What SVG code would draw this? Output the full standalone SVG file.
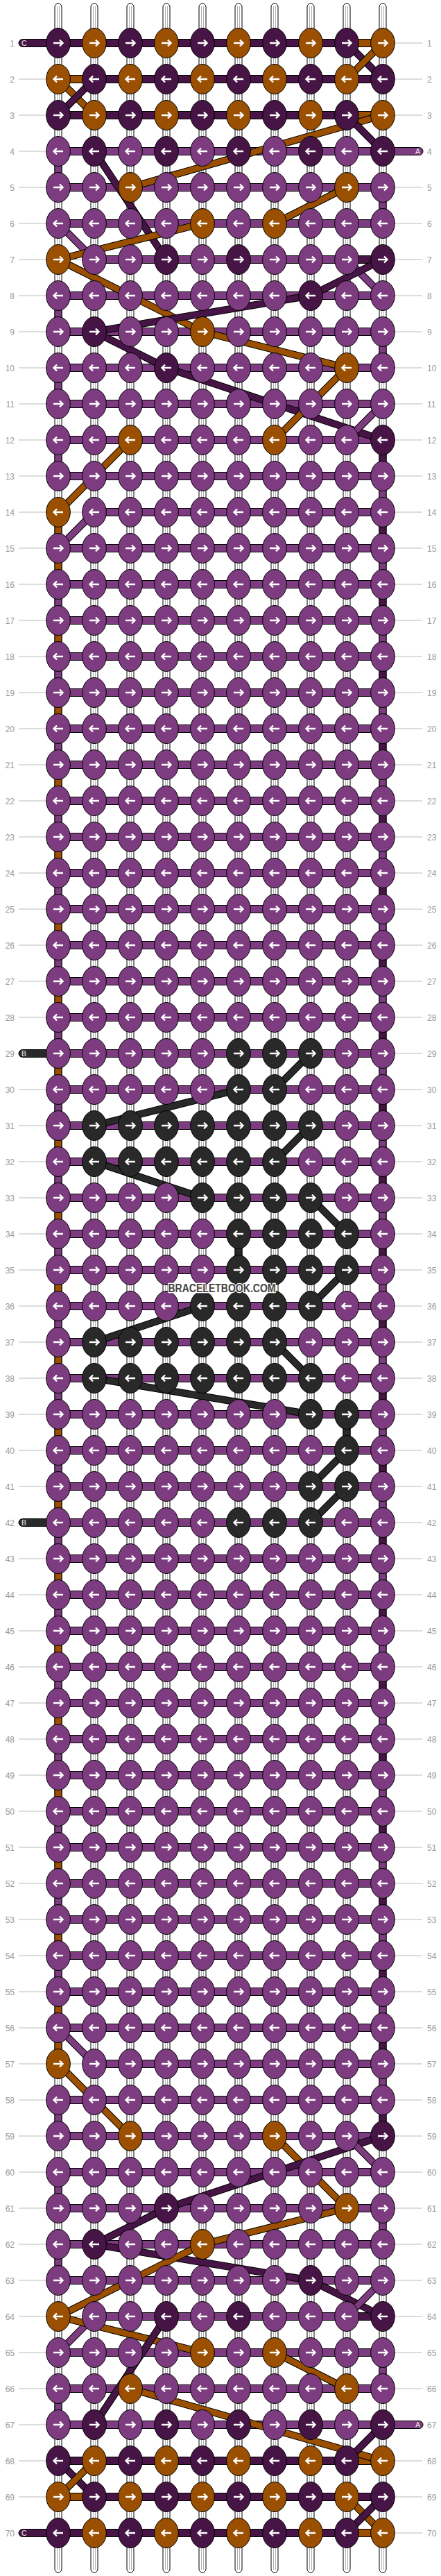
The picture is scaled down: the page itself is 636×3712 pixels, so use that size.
<svg xmlns="http://www.w3.org/2000/svg" xmlns:xlink="http://www.w3.org/1999/xlink" width="636" height="3712" viewBox="0 0 636 3712">
<style>
.p{fill:#7d3c80}.d{fill:#471545}.o{fill:#9a5000}.k{fill:#292929}
.kn{stroke:#000;stroke-width:1}
.ar{fill:none;stroke:#fff;stroke-width:2.4}
.lb{font-family:"Liberation Sans",Arial,sans-serif;font-size:12px;fill:#999}
.ln{stroke:#bbb;stroke-width:1;fill:none}
.hb,.vs,.eb{stroke:#000;stroke-width:1}
.str{fill:#fff;stroke:#000;stroke-width:1}
.sg{stroke:#b0b0b0;stroke-width:1;fill:none}
.ol{fill:none;stroke:#000;stroke-width:10.5}
.tp,.td,.to,.tk{fill:none;stroke-width:8.5}
.tp{stroke:#7d3c80}.td{stroke:#471545}.to{stroke:#9a5000}.tk{stroke:#292929}
.el{font-family:"Liberation Sans",Arial,sans-serif;font-size:10.5px;fill:#eee}
.wm{font-family:"Liberation Sans",Arial,sans-serif;font-size:16px;font-weight:bold;fill:#444;stroke:#fff;stroke-width:2.5;paint-order:stroke}
</style>
<defs>
<path id="ar" class="ar" d="M-7 0H6M2-4.5L6.5 0L2 4.5"/>
<path id="al" class="ar" d="M7 0H-6M-2-4.5L-6.5 0L-2 4.5"/>
<g id="pr"><ellipse class="kn p" rx="17.3" ry="21.5"/><use href="#ar"/></g>
<g id="pl"><ellipse class="kn p" rx="17.3" ry="21.5"/><use href="#al"/></g>
<g id="dr"><ellipse class="kn d" rx="17.3" ry="21.5"/><use href="#ar"/></g>
<g id="dl"><ellipse class="kn d" rx="17.3" ry="21.5"/><use href="#al"/></g>
<g id="or"><ellipse class="kn o" rx="17.3" ry="21.5"/><use href="#ar"/></g>
<g id="ol"><ellipse class="kn o" rx="17.3" ry="21.5"/><use href="#al"/></g>
<g id="kr"><ellipse class="kn k" rx="17.3" ry="21.5"/><use href="#ar"/></g>
<g id="kl"><ellipse class="kn k" rx="17.3" ry="21.5"/><use href="#al"/></g>
<rect id="vP" class="vs p" width="10" height="22"/>
<rect id="vO" class="vs o" width="10" height="22"/>
<rect id="vD" class="vs d" width="10" height="22"/>
<rect id="vK" class="vs k" width="10" height="22"/>
</defs>
<rect width="636" height="3712" fill="#fff"/>
<g id="label-lines"><path class="ln" d="M27 62H609M27 114H609M27 166H609M27 218H609M27 270H609M27 322H609M27 374H609M27 426H609M27 478H609M27 530H609M27 582H609M27 634H609M27 686H609M27 738H609M27 790H609M27 842H609M27 894H609M27 946H609M27 998H609M27 1050H609M27 1102H609M27 1154H609M27 1206H609M27 1258H609M27 1310H609M27 1362H609M27 1414H609M27 1466H609M27 1518H609M27 1570H609M27 1622H609M27 1674H609M27 1726H609M27 1778H609M27 1830H609M27 1882H609M27 1934H609M27 1986H609M27 2038H609M27 2090H609M27 2142H609M27 2194H609M27 2246H609M27 2298H609M27 2350H609M27 2402H609M27 2454H609M27 2506H609M27 2558H609M27 2610H609M27 2662H609M27 2714H609M27 2766H609M27 2818H609M27 2870H609M27 2922H609M27 2974H609M27 3026H609M27 3078H609M27 3130H609M27 3182H609M27 3234H609M27 3286H609M27 3338H609M27 3390H609M27 3442H609M27 3494H609M27 3546H609M27 3598H609M27 3650H609"/></g>
<g id="row-labels-left" class="lb" text-anchor="end">
<text x="21" y="66.5">1</text><text x="21" y="118.5">2</text><text x="21" y="170.5">3</text><text x="21" y="222.5">4</text><text x="21" y="274.5">5</text><text x="21" y="326.5">6</text><text x="21" y="378.5">7</text><text x="21" y="430.5">8</text><text x="21" y="482.5">9</text><text x="21" y="534.5">10</text><text x="21" y="586.5">11</text><text x="21" y="638.5">12</text><text x="21" y="690.5">13</text><text x="21" y="742.5">14</text><text x="21" y="794.5">15</text><text x="21" y="846.5">16</text><text x="21" y="898.5">17</text><text x="21" y="950.5">18</text><text x="21" y="1002.5">19</text><text x="21" y="1054.5">20</text><text x="21" y="1106.5">21</text><text x="21" y="1158.5">22</text><text x="21" y="1210.5">23</text><text x="21" y="1262.5">24</text><text x="21" y="1314.5">25</text><text x="21" y="1366.5">26</text><text x="21" y="1418.5">27</text><text x="21" y="1470.5">28</text><text x="21" y="1522.5">29</text><text x="21" y="1574.5">30</text><text x="21" y="1626.5">31</text><text x="21" y="1678.5">32</text><text x="21" y="1730.5">33</text><text x="21" y="1782.5">34</text><text x="21" y="1834.5">35</text><text x="21" y="1886.5">36</text><text x="21" y="1938.5">37</text><text x="21" y="1990.5">38</text><text x="21" y="2042.5">39</text><text x="21" y="2094.5">40</text><text x="21" y="2146.5">41</text><text x="21" y="2198.5">42</text><text x="21" y="2250.5">43</text><text x="21" y="2302.5">44</text><text x="21" y="2354.5">45</text><text x="21" y="2406.5">46</text><text x="21" y="2458.5">47</text><text x="21" y="2510.5">48</text><text x="21" y="2562.5">49</text><text x="21" y="2614.5">50</text><text x="21" y="2666.5">51</text><text x="21" y="2718.5">52</text><text x="21" y="2770.5">53</text><text x="21" y="2822.5">54</text><text x="21" y="2874.5">55</text><text x="21" y="2926.5">56</text><text x="21" y="2978.5">57</text><text x="21" y="3030.5">58</text><text x="21" y="3082.5">59</text><text x="21" y="3134.5">60</text><text x="21" y="3186.5">61</text><text x="21" y="3238.5">62</text><text x="21" y="3290.5">63</text><text x="21" y="3342.5">64</text><text x="21" y="3394.5">65</text><text x="21" y="3446.5">66</text><text x="21" y="3498.5">67</text><text x="21" y="3550.5">68</text><text x="21" y="3602.5">69</text><text x="21" y="3654.5">70</text>
</g>
<g id="row-labels-right" class="lb">
<text x="616" y="66.5">1</text><text x="616" y="118.5">2</text><text x="616" y="170.5">3</text><text x="616" y="222.5">4</text><text x="616" y="274.5">5</text><text x="616" y="326.5">6</text><text x="616" y="378.5">7</text><text x="616" y="430.5">8</text><text x="616" y="482.5">9</text><text x="616" y="534.5">10</text><text x="616" y="586.5">11</text><text x="616" y="638.5">12</text><text x="616" y="690.5">13</text><text x="616" y="742.5">14</text><text x="616" y="794.5">15</text><text x="616" y="846.5">16</text><text x="616" y="898.5">17</text><text x="616" y="950.5">18</text><text x="616" y="1002.5">19</text><text x="616" y="1054.5">20</text><text x="616" y="1106.5">21</text><text x="616" y="1158.5">22</text><text x="616" y="1210.5">23</text><text x="616" y="1262.5">24</text><text x="616" y="1314.5">25</text><text x="616" y="1366.5">26</text><text x="616" y="1418.5">27</text><text x="616" y="1470.5">28</text><text x="616" y="1522.5">29</text><text x="616" y="1574.5">30</text><text x="616" y="1626.5">31</text><text x="616" y="1678.5">32</text><text x="616" y="1730.5">33</text><text x="616" y="1782.5">34</text><text x="616" y="1834.5">35</text><text x="616" y="1886.5">36</text><text x="616" y="1938.5">37</text><text x="616" y="1990.5">38</text><text x="616" y="2042.5">39</text><text x="616" y="2094.5">40</text><text x="616" y="2146.5">41</text><text x="616" y="2198.5">42</text><text x="616" y="2250.5">43</text><text x="616" y="2302.5">44</text><text x="616" y="2354.5">45</text><text x="616" y="2406.5">46</text><text x="616" y="2458.5">47</text><text x="616" y="2510.5">48</text><text x="616" y="2562.5">49</text><text x="616" y="2614.5">50</text><text x="616" y="2666.5">51</text><text x="616" y="2718.5">52</text><text x="616" y="2770.5">53</text><text x="616" y="2822.5">54</text><text x="616" y="2874.5">55</text><text x="616" y="2926.5">56</text><text x="616" y="2978.5">57</text><text x="616" y="3030.5">58</text><text x="616" y="3082.5">59</text><text x="616" y="3134.5">60</text><text x="616" y="3186.5">61</text><text x="616" y="3238.5">62</text><text x="616" y="3290.5">63</text><text x="616" y="3342.5">64</text><text x="616" y="3394.5">65</text><text x="616" y="3446.5">66</text><text x="616" y="3498.5">67</text><text x="616" y="3550.5">68</text><text x="616" y="3602.5">69</text><text x="616" y="3654.5">70</text>
</g>
<g id="strings">
<rect class="str" x="79" y="5" width="10" height="3702" rx="5"/><rect class="str" x="131" y="5" width="10" height="3702" rx="5"/><rect class="str" x="183" y="5" width="10" height="3702" rx="5"/><rect class="str" x="235" y="5" width="10" height="3702" rx="5"/><rect class="str" x="287" y="5" width="10" height="3702" rx="5"/><rect class="str" x="339" y="5" width="10" height="3702" rx="5"/><rect class="str" x="391" y="5" width="10" height="3702" rx="5"/><rect class="str" x="443" y="5" width="10" height="3702" rx="5"/><rect class="str" x="495" y="5" width="10" height="3702" rx="5"/><rect class="str" x="547" y="5" width="10" height="3702" rx="5"/>
<path class="sg" d="M82.5 9V3703M85.5 9V3703M134.5 9V3703M137.5 9V3703M186.5 9V3703M189.5 9V3703M238.5 9V3703M241.5 9V3703M290.5 9V3703M293.5 9V3703M342.5 9V3703M345.5 9V3703M394.5 9V3703M397.5 9V3703M446.5 9V3703M449.5 9V3703M498.5 9V3703M501.5 9V3703M550.5 9V3703M553.5 9V3703"/>
</g>
<g id="vertical-segments">
<use href="#vP" x="79" y="233"/><use href="#vP" x="79" y="441"/><use href="#vP" x="79" y="545"/><use href="#vP" x="79" y="649"/><use href="#vO" x="79" y="753"/><use href="#vO" x="79" y="805"/>
<use href="#vP" x="79" y="857"/><use href="#vO" x="79" y="909"/><use href="#vP" x="79" y="961"/><use href="#vO" x="79" y="1013"/><use href="#vP" x="79" y="1065"/><use href="#vO" x="79" y="1117"/><use href="#vP" x="79" y="1169"/><use href="#vO" x="79" y="1221"/><use href="#vP" x="79" y="1273"/><use href="#vO" x="79" y="1325"/><use href="#vP" x="79" y="1377"/><use href="#vO" x="79" y="1429"/><use href="#vP" x="79" y="1481"/><use href="#vO" x="79" y="1533"/><use href="#vP" x="79" y="1585"/><use href="#vO" x="79" y="1637"/><use href="#vP" x="79" y="1689"/><use href="#vO" x="79" y="1741"/><use href="#vP" x="79" y="1793"/><use href="#vO" x="79" y="1845"/><use href="#vP" x="79" y="1897"/><use href="#vO" x="79" y="1949"/><use href="#vP" x="79" y="2001"/><use href="#vO" x="79" y="2053"/><use href="#vP" x="79" y="2105"/><use href="#vO" x="79" y="2157"/><use href="#vP" x="79" y="2209"/><use href="#vO" x="79" y="2261"/><use href="#vP" x="79" y="2313"/><use href="#vO" x="79" y="2365"/><use href="#vP" x="79" y="2417"/><use href="#vO" x="79" y="2469"/><use href="#vP" x="79" y="2521"/><use href="#vO" x="79" y="2573"/><use href="#vP" x="79" y="2625"/><use href="#vO" x="79" y="2677"/><use href="#vP" x="79" y="2729"/><use href="#vO" x="79" y="2781"/><use href="#vP" x="79" y="2833"/><use href="#vO" x="79" y="2885"/><use href="#vO" x="79" y="2937"/>
<use href="#vP" x="79" y="3041"/><use href="#vP" x="79" y="3145"/><use href="#vP" x="79" y="3249"/><use href="#vP" x="79" y="3457"/>
<use href="#vP" x="547" y="285"/><use href="#vP" x="547" y="493"/><use href="#vD" x="547" y="649"/>
<use href="#vP" x="547" y="701"/><use href="#vD" x="547" y="753"/><use href="#vP" x="547" y="805"/><use href="#vD" x="547" y="857"/><use href="#vP" x="547" y="909"/><use href="#vD" x="547" y="961"/><use href="#vP" x="547" y="1013"/><use href="#vD" x="547" y="1065"/><use href="#vP" x="547" y="1117"/><use href="#vD" x="547" y="1169"/><use href="#vP" x="547" y="1221"/><use href="#vD" x="547" y="1273"/><use href="#vP" x="547" y="1325"/><use href="#vD" x="547" y="1377"/><use href="#vP" x="547" y="1429"/><use href="#vD" x="547" y="1481"/><use href="#vP" x="547" y="1533"/><use href="#vD" x="547" y="1585"/><use href="#vP" x="547" y="1637"/><use href="#vD" x="547" y="1689"/><use href="#vP" x="547" y="1741"/><use href="#vD" x="547" y="1793"/><use href="#vP" x="547" y="1845"/><use href="#vD" x="547" y="1897"/><use href="#vP" x="547" y="1949"/><use href="#vD" x="547" y="2001"/><use href="#vP" x="547" y="2053"/><use href="#vD" x="547" y="2105"/><use href="#vP" x="547" y="2157"/><use href="#vD" x="547" y="2209"/><use href="#vP" x="547" y="2261"/><use href="#vD" x="547" y="2313"/><use href="#vP" x="547" y="2365"/><use href="#vD" x="547" y="2417"/><use href="#vP" x="547" y="2469"/><use href="#vD" x="547" y="2521"/><use href="#vP" x="547" y="2573"/><use href="#vD" x="547" y="2625"/><use href="#vP" x="547" y="2677"/><use href="#vD" x="547" y="2729"/><use href="#vP" x="547" y="2781"/><use href="#vD" x="547" y="2833"/><use href="#vP" x="547" y="2885"/><use href="#vD" x="547" y="2937"/><use href="#vP" x="547" y="2989"/><use href="#vD" x="547" y="3041"/>
<use href="#vP" x="547" y="3197"/><use href="#vP" x="547" y="3405"/>
<use href="#vK" x="339" y="1793"/><use href="#vK" x="495" y="2053"/>
</g>
<g id="row-threads">
<rect class="hb d" x="84" y="56.5" width="468" height="11"/><rect class="hb o" x="500" y="56.5" width="52" height="11"/>
<rect class="hb d" x="84" y="108.5" width="468" height="11"/><rect class="hb o" x="84" y="108.5" width="52" height="11"/>
<rect class="hb d" x="84" y="160.5" width="468" height="11"/><rect class="hb o" x="500" y="160.5" width="52" height="11"/>
<rect class="hb p" x="84" y="212.5" width="468" height="11"/>
<rect class="hb p" x="84" y="264.5" width="468" height="11"/>
<rect class="hb p" x="84" y="316.5" width="468" height="11"/>
<rect class="hb p" x="136" y="368.5" width="416" height="11"/><rect class="hb d" x="500" y="368.5" width="52" height="11"/>
<rect class="hb p" x="84" y="420.5" width="468" height="11"/>
<rect class="hb p" x="84" y="472.5" width="468" height="11"/>
<rect class="hb p" x="84" y="524.5" width="468" height="11"/>
<rect class="hb p" x="84" y="576.5" width="468" height="11"/>
<rect class="hb p" x="84" y="628.5" width="468" height="11"/>
<rect class="hb p" x="84" y="680.5" width="468" height="11"/>
<rect class="hb p" x="136" y="732.5" width="416" height="11"/>
<rect class="hb p" x="84" y="784.5" width="468" height="11"/>
<rect class="hb p" x="84" y="836.5" width="468" height="11"/>
<rect class="hb p" x="84" y="888.5" width="468" height="11"/>
<rect class="hb p" x="84" y="940.5" width="468" height="11"/>
<rect class="hb p" x="84" y="992.5" width="468" height="11"/>
<rect class="hb p" x="84" y="1044.5" width="468" height="11"/>
<rect class="hb p" x="84" y="1096.5" width="468" height="11"/>
<rect class="hb p" x="84" y="1148.5" width="468" height="11"/>
<rect class="hb p" x="84" y="1200.5" width="468" height="11"/>
<rect class="hb p" x="84" y="1252.5" width="468" height="11"/>
<rect class="hb p" x="84" y="1304.5" width="468" height="11"/>
<rect class="hb p" x="84" y="1356.5" width="468" height="11"/>
<rect class="hb p" x="84" y="1408.5" width="468" height="11"/>
<rect class="hb p" x="84" y="1460.5" width="468" height="11"/>
<rect class="hb p" x="84" y="1512.5" width="468" height="11"/>
<rect class="hb p" x="84" y="1564.5" width="468" height="11"/>
<rect class="hb p" x="84" y="1616.5" width="468" height="11"/>
<rect class="hb p" x="84" y="1668.5" width="468" height="11"/>
<rect class="hb p" x="84" y="1720.5" width="468" height="11"/>
<rect class="hb p" x="84" y="1772.5" width="468" height="11"/>
<rect class="hb p" x="84" y="1824.5" width="468" height="11"/>
<rect class="hb p" x="84" y="1876.5" width="468" height="11"/>
<rect class="hb p" x="84" y="1928.5" width="468" height="11"/>
<rect class="hb p" x="84" y="1980.5" width="468" height="11"/>
<rect class="hb p" x="84" y="2032.5" width="468" height="11"/>
<rect class="hb p" x="84" y="2084.5" width="468" height="11"/>
<rect class="hb p" x="84" y="2136.5" width="468" height="11"/>
<rect class="hb p" x="84" y="2188.5" width="468" height="11"/>
<rect class="hb p" x="84" y="2240.5" width="468" height="11"/>
<rect class="hb p" x="84" y="2292.5" width="468" height="11"/>
<rect class="hb p" x="84" y="2344.5" width="468" height="11"/>
<rect class="hb p" x="84" y="2396.5" width="468" height="11"/>
<rect class="hb p" x="84" y="2448.5" width="468" height="11"/>
<rect class="hb p" x="84" y="2500.5" width="468" height="11"/>
<rect class="hb p" x="84" y="2552.5" width="468" height="11"/>
<rect class="hb p" x="84" y="2604.5" width="468" height="11"/>
<rect class="hb p" x="84" y="2656.5" width="468" height="11"/>
<rect class="hb p" x="84" y="2708.5" width="468" height="11"/>
<rect class="hb p" x="84" y="2760.5" width="468" height="11"/>
<rect class="hb p" x="84" y="2812.5" width="468" height="11"/>
<rect class="hb p" x="84" y="2864.5" width="468" height="11"/>
<rect class="hb p" x="84" y="2916.5" width="468" height="11"/>
<rect class="hb p" x="136" y="2968.5" width="416" height="11"/>
<rect class="hb p" x="84" y="3020.5" width="468" height="11"/>
<rect class="hb p" x="84" y="3072.5" width="468" height="11"/>
<rect class="hb p" x="84" y="3124.5" width="468" height="11"/>
<rect class="hb p" x="84" y="3176.5" width="468" height="11"/>
<rect class="hb p" x="84" y="3228.5" width="468" height="11"/>
<rect class="hb p" x="84" y="3280.5" width="468" height="11"/>
<rect class="hb p" x="136" y="3332.5" width="416" height="11"/><rect class="hb d" x="500" y="3332.5" width="52" height="11"/>
<rect class="hb p" x="84" y="3384.5" width="468" height="11"/>
<rect class="hb p" x="84" y="3436.5" width="468" height="11"/>
<rect class="hb p" x="84" y="3488.5" width="468" height="11"/>
<rect class="hb d" x="84" y="3540.5" width="468" height="11"/><rect class="hb o" x="500" y="3540.5" width="52" height="11"/>
<rect class="hb d" x="84" y="3592.5" width="468" height="11"/><rect class="hb o" x="84" y="3592.5" width="52" height="11"/>
<rect class="hb d" x="84" y="3644.5" width="468" height="11"/><rect class="hb o" x="500" y="3644.5" width="52" height="11"/>
</g>
<g id="thread-ends">
<rect class="eb d" x="27" y="56.5" width="60" height="11" rx="5.5"/><text class="el" x="31" y="66">C</text>
<rect class="eb p" x="549" y="212.5" width="61" height="11" rx="5.5"/><text class="el" x="606" y="222" text-anchor="end">A</text>
<rect class="eb k" x="27" y="1512.5" width="60" height="11" rx="5.5"/><text class="el" x="31" y="1522">B</text>
<rect class="eb k" x="27" y="2188.5" width="60" height="11" rx="5.5"/><text class="el" x="31" y="2198">B</text>
<rect class="eb p" x="549" y="3488.5" width="61" height="11" rx="5.5"/><text class="el" x="606" y="3498" text-anchor="end">A</text>
<rect class="eb d" x="27" y="3644.5" width="60" height="11" rx="5.5"/><text class="el" x="31" y="3654">C</text>
</g>
<g id="connectors">
<path class="ol" d="M500 62L552 114"/><path class="td" d="M500 62L552 114"/>
<path class="ol" d="M552 62L500 114"/><path class="to" d="M552 62L500 114"/>
<path class="ol" d="M84 114L136 166"/><path class="to" d="M84 114L136 166"/>
<path class="ol" d="M136 114L84 166"/><path class="td" d="M136 114L84 166"/>
<path class="ol" d="M552 166L188 270"/><path class="to" d="M552 166L188 270"/>
<path class="ol" d="M500 166L552 218"/><path class="td" d="M500 166L552 218"/>
<path class="ol" d="M136 218L240 374"/><path class="td" d="M136 218L240 374"/>
<path class="ol" d="M500 270L396 322"/><path class="to" d="M500 270L396 322"/>
<path class="ol" d="M84 322L136 374"/><path class="tp" d="M84 322L136 374"/>
<path class="ol" d="M292 322L84 374"/><path class="to" d="M292 322L84 374"/>
<path class="ol" d="M84 374L292 478"/><path class="to" d="M84 374L292 478"/>
<path class="ol" d="M500 374L552 426"/><path class="tp" d="M500 374L552 426"/>
<path class="ol" d="M552 374L448 426"/><path class="td" d="M552 374L448 426"/>
<path class="ol" d="M448 426L136 478"/><path class="td" d="M448 426L136 478"/>
<path class="ol" d="M292 478L500 530"/><path class="to" d="M292 478L500 530"/>
<path class="ol" d="M136 478L240 530"/><path class="td" d="M136 478L240 530"/>
<path class="ol" d="M240 530L552 634"/><path class="td" d="M240 530L552 634"/>
<path class="ol" d="M500 530L396 634"/><path class="to" d="M500 530L396 634"/>
<path class="ol" d="M552 582L500 634"/><path class="tp" d="M552 582L500 634"/>
<path class="ol" d="M188 634L84 738"/><path class="to" d="M188 634L84 738"/>
<path class="ol" d="M136 738L84 790"/><path class="tp" d="M136 738L84 790"/>
<path class="ol" d="M448 1518L396 1570"/><path class="tk" d="M448 1518L396 1570"/>
<path class="ol" d="M344 1570L136 1622"/><path class="tk" d="M344 1570L136 1622"/>
<path class="ol" d="M448 1622L396 1674"/><path class="tk" d="M448 1622L396 1674"/>
<path class="ol" d="M136 1674L292 1726"/><path class="tk" d="M136 1674L292 1726"/>
<path class="ol" d="M448 1726L500 1778"/><path class="tk" d="M448 1726L500 1778"/>
<path class="ol" d="M500 1830L448 1882"/><path class="tk" d="M500 1830L448 1882"/>
<path class="ol" d="M292 1882L136 1934"/><path class="tk" d="M292 1882L136 1934"/>
<path class="ol" d="M396 1934L448 1986"/><path class="tk" d="M396 1934L448 1986"/>
<path class="ol" d="M136 1986L448 2038"/><path class="tk" d="M136 1986L448 2038"/>
<path class="ol" d="M500 2090L448 2142"/><path class="tk" d="M500 2090L448 2142"/>
<path class="ol" d="M500 2142L448 2194"/><path class="tk" d="M500 2142L448 2194"/>
<path class="ol" d="M84 2922L136 2974"/><path class="tp" d="M84 2922L136 2974"/>
<path class="ol" d="M84 2974L188 3078"/><path class="to" d="M84 2974L188 3078"/>
<path class="ol" d="M396 3078L500 3182"/><path class="to" d="M396 3078L500 3182"/>
<path class="ol" d="M552 3078L240 3182"/><path class="td" d="M552 3078L240 3182"/>
<path class="ol" d="M500 3078L552 3130"/><path class="tp" d="M500 3078L552 3130"/>
<path class="ol" d="M240 3182L136 3234"/><path class="td" d="M240 3182L136 3234"/>
<path class="ol" d="M500 3182L292 3234"/><path class="to" d="M500 3182L292 3234"/>
<path class="ol" d="M136 3234L448 3286"/><path class="td" d="M136 3234L448 3286"/>
<path class="ol" d="M292 3234L84 3338"/><path class="to" d="M292 3234L84 3338"/>
<path class="ol" d="M448 3286L552 3338"/><path class="td" d="M448 3286L552 3338"/>
<path class="ol" d="M552 3286L500 3338"/><path class="tp" d="M552 3286L500 3338"/>
<path class="ol" d="M136 3338L84 3390"/><path class="tp" d="M136 3338L84 3390"/>
<path class="ol" d="M84 3338L292 3390"/><path class="to" d="M84 3338L292 3390"/>
<path class="ol" d="M240 3338L136 3494"/><path class="td" d="M240 3338L136 3494"/>
<path class="ol" d="M396 3390L500 3442"/><path class="to" d="M396 3390L500 3442"/>
<path class="ol" d="M188 3442L552 3546"/><path class="to" d="M188 3442L552 3546"/>
<path class="ol" d="M552 3494L500 3546"/><path class="td" d="M552 3494L500 3546"/>
<path class="ol" d="M84 3546L136 3598"/><path class="td" d="M84 3546L136 3598"/>
<path class="ol" d="M136 3546L84 3598"/><path class="to" d="M136 3546L84 3598"/>
<path class="ol" d="M500 3598L552 3650"/><path class="to" d="M500 3598L552 3650"/>
<path class="ol" d="M552 3598L500 3650"/><path class="td" d="M552 3598L500 3650"/>
</g>
<g id="knots">
<g id="row1" transform="translate(0,62)"><use href="#dr" x="84"/><use href="#or" x="136"/><use href="#dr" x="188"/><use href="#or" x="240"/><use href="#dr" x="292"/><use href="#or" x="344"/><use href="#dr" x="396"/><use href="#or" x="448"/><use href="#dr" x="500"/><use href="#or" x="552"/></g>
<g id="row2" transform="translate(0,114)"><use href="#ol" x="84"/><use href="#dl" x="136"/><use href="#ol" x="188"/><use href="#dl" x="240"/><use href="#ol" x="292"/><use href="#dl" x="344"/><use href="#ol" x="396"/><use href="#dl" x="448"/><use href="#ol" x="500"/><use href="#dl" x="552"/></g>
<g id="row3" transform="translate(0,166)"><use href="#dr" x="84"/><use href="#or" x="136"/><use href="#dr" x="188"/><use href="#or" x="240"/><use href="#dr" x="292"/><use href="#or" x="344"/><use href="#dr" x="396"/><use href="#or" x="448"/><use href="#dr" x="500"/><use href="#or" x="552"/></g>
<g id="row4" transform="translate(0,218)"><use href="#pl" x="84"/><use href="#dl" x="136"/><use href="#pl" x="188"/><use href="#dl" x="240"/><use href="#pl" x="292"/><use href="#dl" x="344"/><use href="#pl" x="396"/><use href="#dl" x="448"/><use href="#pl" x="500"/><use href="#dl" x="552"/></g>
<g id="row5" transform="translate(0,270)"><use href="#pr" x="84"/><use href="#pr" x="136"/><use href="#or" x="188"/><use href="#pr" x="240"/><use href="#pr" x="292"/><use href="#pr" x="344"/><use href="#pr" x="396"/><use href="#pr" x="448"/><use href="#or" x="500"/><use href="#pr" x="552"/></g>
<g id="row6" transform="translate(0,322)"><use href="#pl" x="84"/><use href="#pl" x="136"/><use href="#pl" x="188"/><use href="#pl" x="240"/><use href="#ol" x="292"/><use href="#pl" x="344"/><use href="#ol" x="396"/><use href="#pl" x="448"/><use href="#pl" x="500"/><use href="#pl" x="552"/></g>
<g id="row7" transform="translate(0,374)"><use href="#or" x="84"/><use href="#pr" x="136"/><use href="#pr" x="188"/><use href="#dr" x="240"/><use href="#pr" x="292"/><use href="#dr" x="344"/><use href="#pr" x="396"/><use href="#pr" x="448"/><use href="#pr" x="500"/><use href="#dr" x="552"/></g>
<g id="row8" transform="translate(0,426)"><use href="#pl" x="84"/><use href="#pl" x="136"/><use href="#pl" x="188"/><use href="#pl" x="240"/><use href="#pl" x="292"/><use href="#pl" x="344"/><use href="#pl" x="396"/><use href="#dl" x="448"/><use href="#pl" x="500"/><use href="#pl" x="552"/></g>
<g id="row9" transform="translate(0,478)"><use href="#pr" x="84"/><use href="#dr" x="136"/><use href="#pr" x="188"/><use href="#pr" x="240"/><use href="#or" x="292"/><use href="#pr" x="344"/><use href="#pr" x="396"/><use href="#pr" x="448"/><use href="#pr" x="500"/><use href="#pr" x="552"/></g>
<g id="row10" transform="translate(0,530)"><use href="#pl" x="84"/><use href="#pl" x="136"/><use href="#pl" x="188"/><use href="#dl" x="240"/><use href="#pl" x="292"/><use href="#pl" x="344"/><use href="#pl" x="396"/><use href="#pl" x="448"/><use href="#ol" x="500"/><use href="#pl" x="552"/></g>
<g id="row11" transform="translate(0,582)"><use href="#pr" x="84"/><use href="#pr" x="136"/><use href="#pr" x="188"/><use href="#pr" x="240"/><use href="#pr" x="292"/><use href="#pr" x="344"/><use href="#pr" x="396"/><use href="#pr" x="448"/><use href="#pr" x="500"/><use href="#pr" x="552"/></g>
<g id="row12" transform="translate(0,634)"><use href="#pl" x="84"/><use href="#pl" x="136"/><use href="#ol" x="188"/><use href="#pl" x="240"/><use href="#pl" x="292"/><use href="#pl" x="344"/><use href="#ol" x="396"/><use href="#pl" x="448"/><use href="#pl" x="500"/><use href="#dl" x="552"/></g>
<g id="row13" transform="translate(0,686)"><use href="#pr" x="84"/><use href="#pr" x="136"/><use href="#pr" x="188"/><use href="#pr" x="240"/><use href="#pr" x="292"/><use href="#pr" x="344"/><use href="#pr" x="396"/><use href="#pr" x="448"/><use href="#pr" x="500"/><use href="#pr" x="552"/></g>
<g id="row14" transform="translate(0,738)"><use href="#ol" x="84"/><use href="#pl" x="136"/><use href="#pl" x="188"/><use href="#pl" x="240"/><use href="#pl" x="292"/><use href="#pl" x="344"/><use href="#pl" x="396"/><use href="#pl" x="448"/><use href="#pl" x="500"/><use href="#pl" x="552"/></g>
<g id="row15" transform="translate(0,790)"><use href="#pr" x="84"/><use href="#pr" x="136"/><use href="#pr" x="188"/><use href="#pr" x="240"/><use href="#pr" x="292"/><use href="#pr" x="344"/><use href="#pr" x="396"/><use href="#pr" x="448"/><use href="#pr" x="500"/><use href="#pr" x="552"/></g>
<g id="row16" transform="translate(0,842)"><use href="#pl" x="84"/><use href="#pl" x="136"/><use href="#pl" x="188"/><use href="#pl" x="240"/><use href="#pl" x="292"/><use href="#pl" x="344"/><use href="#pl" x="396"/><use href="#pl" x="448"/><use href="#pl" x="500"/><use href="#pl" x="552"/></g>
<g id="row17" transform="translate(0,894)"><use href="#pr" x="84"/><use href="#pr" x="136"/><use href="#pr" x="188"/><use href="#pr" x="240"/><use href="#pr" x="292"/><use href="#pr" x="344"/><use href="#pr" x="396"/><use href="#pr" x="448"/><use href="#pr" x="500"/><use href="#pr" x="552"/></g>
<g id="row18" transform="translate(0,946)"><use href="#pl" x="84"/><use href="#pl" x="136"/><use href="#pl" x="188"/><use href="#pl" x="240"/><use href="#pl" x="292"/><use href="#pl" x="344"/><use href="#pl" x="396"/><use href="#pl" x="448"/><use href="#pl" x="500"/><use href="#pl" x="552"/></g>
<g id="row19" transform="translate(0,998)"><use href="#pr" x="84"/><use href="#pr" x="136"/><use href="#pr" x="188"/><use href="#pr" x="240"/><use href="#pr" x="292"/><use href="#pr" x="344"/><use href="#pr" x="396"/><use href="#pr" x="448"/><use href="#pr" x="500"/><use href="#pr" x="552"/></g>
<g id="row20" transform="translate(0,1050)"><use href="#pl" x="84"/><use href="#pl" x="136"/><use href="#pl" x="188"/><use href="#pl" x="240"/><use href="#pl" x="292"/><use href="#pl" x="344"/><use href="#pl" x="396"/><use href="#pl" x="448"/><use href="#pl" x="500"/><use href="#pl" x="552"/></g>
<g id="row21" transform="translate(0,1102)"><use href="#pr" x="84"/><use href="#pr" x="136"/><use href="#pr" x="188"/><use href="#pr" x="240"/><use href="#pr" x="292"/><use href="#pr" x="344"/><use href="#pr" x="396"/><use href="#pr" x="448"/><use href="#pr" x="500"/><use href="#pr" x="552"/></g>
<g id="row22" transform="translate(0,1154)"><use href="#pl" x="84"/><use href="#pl" x="136"/><use href="#pl" x="188"/><use href="#pl" x="240"/><use href="#pl" x="292"/><use href="#pl" x="344"/><use href="#pl" x="396"/><use href="#pl" x="448"/><use href="#pl" x="500"/><use href="#pl" x="552"/></g>
<g id="row23" transform="translate(0,1206)"><use href="#pr" x="84"/><use href="#pr" x="136"/><use href="#pr" x="188"/><use href="#pr" x="240"/><use href="#pr" x="292"/><use href="#pr" x="344"/><use href="#pr" x="396"/><use href="#pr" x="448"/><use href="#pr" x="500"/><use href="#pr" x="552"/></g>
<g id="row24" transform="translate(0,1258)"><use href="#pl" x="84"/><use href="#pl" x="136"/><use href="#pl" x="188"/><use href="#pl" x="240"/><use href="#pl" x="292"/><use href="#pl" x="344"/><use href="#pl" x="396"/><use href="#pl" x="448"/><use href="#pl" x="500"/><use href="#pl" x="552"/></g>
<g id="row25" transform="translate(0,1310)"><use href="#pr" x="84"/><use href="#pr" x="136"/><use href="#pr" x="188"/><use href="#pr" x="240"/><use href="#pr" x="292"/><use href="#pr" x="344"/><use href="#pr" x="396"/><use href="#pr" x="448"/><use href="#pr" x="500"/><use href="#pr" x="552"/></g>
<g id="row26" transform="translate(0,1362)"><use href="#pl" x="84"/><use href="#pl" x="136"/><use href="#pl" x="188"/><use href="#pl" x="240"/><use href="#pl" x="292"/><use href="#pl" x="344"/><use href="#pl" x="396"/><use href="#pl" x="448"/><use href="#pl" x="500"/><use href="#pl" x="552"/></g>
<g id="row27" transform="translate(0,1414)"><use href="#pr" x="84"/><use href="#pr" x="136"/><use href="#pr" x="188"/><use href="#pr" x="240"/><use href="#pr" x="292"/><use href="#pr" x="344"/><use href="#pr" x="396"/><use href="#pr" x="448"/><use href="#pr" x="500"/><use href="#pr" x="552"/></g>
<g id="row28" transform="translate(0,1466)"><use href="#pl" x="84"/><use href="#pl" x="136"/><use href="#pl" x="188"/><use href="#pl" x="240"/><use href="#pl" x="292"/><use href="#pl" x="344"/><use href="#pl" x="396"/><use href="#pl" x="448"/><use href="#pl" x="500"/><use href="#pl" x="552"/></g>
<g id="row29" transform="translate(0,1518)"><use href="#pr" x="84"/><use href="#pr" x="136"/><use href="#pr" x="188"/><use href="#pr" x="240"/><use href="#pr" x="292"/><use href="#kr" x="344"/><use href="#kr" x="396"/><use href="#kr" x="448"/><use href="#pr" x="500"/><use href="#pr" x="552"/></g>
<g id="row30" transform="translate(0,1570)"><use href="#pl" x="84"/><use href="#pl" x="136"/><use href="#pl" x="188"/><use href="#pl" x="240"/><use href="#pl" x="292"/><use href="#kl" x="344"/><use href="#kl" x="396"/><use href="#pl" x="448"/><use href="#pl" x="500"/><use href="#pl" x="552"/></g>
<g id="row31" transform="translate(0,1622)"><use href="#pr" x="84"/><use href="#kr" x="136"/><use href="#kr" x="188"/><use href="#kr" x="240"/><use href="#kr" x="292"/><use href="#kr" x="344"/><use href="#kr" x="396"/><use href="#kr" x="448"/><use href="#pr" x="500"/><use href="#pr" x="552"/></g>
<g id="row32" transform="translate(0,1674)"><use href="#pl" x="84"/><use href="#kl" x="136"/><use href="#kl" x="188"/><use href="#kl" x="240"/><use href="#kl" x="292"/><use href="#kl" x="344"/><use href="#kl" x="396"/><use href="#pl" x="448"/><use href="#pl" x="500"/><use href="#pl" x="552"/></g>
<g id="row33" transform="translate(0,1726)"><use href="#pr" x="84"/><use href="#pr" x="136"/><use href="#pr" x="188"/><use href="#pr" x="240"/><use href="#kr" x="292"/><use href="#kr" x="344"/><use href="#kr" x="396"/><use href="#kr" x="448"/><use href="#pr" x="500"/><use href="#pr" x="552"/></g>
<g id="row34" transform="translate(0,1778)"><use href="#pl" x="84"/><use href="#pl" x="136"/><use href="#pl" x="188"/><use href="#pl" x="240"/><use href="#pl" x="292"/><use href="#kl" x="344"/><use href="#kl" x="396"/><use href="#kl" x="448"/><use href="#kl" x="500"/><use href="#pl" x="552"/></g>
<g id="row35" transform="translate(0,1830)"><use href="#pr" x="84"/><use href="#pr" x="136"/><use href="#pr" x="188"/><use href="#pr" x="240"/><use href="#pr" x="292"/><use href="#kr" x="344"/><use href="#kr" x="396"/><use href="#kr" x="448"/><use href="#kr" x="500"/><use href="#pr" x="552"/></g>
<g id="row36" transform="translate(0,1882)"><use href="#pl" x="84"/><use href="#pl" x="136"/><use href="#pl" x="188"/><use href="#pl" x="240"/><use href="#kl" x="292"/><use href="#kl" x="344"/><use href="#kl" x="396"/><use href="#kl" x="448"/><use href="#pl" x="500"/><use href="#pl" x="552"/></g>
<g id="row37" transform="translate(0,1934)"><use href="#pr" x="84"/><use href="#kr" x="136"/><use href="#kr" x="188"/><use href="#kr" x="240"/><use href="#kr" x="292"/><use href="#kr" x="344"/><use href="#kr" x="396"/><use href="#pr" x="448"/><use href="#pr" x="500"/><use href="#pr" x="552"/></g>
<g id="row38" transform="translate(0,1986)"><use href="#pl" x="84"/><use href="#kl" x="136"/><use href="#kl" x="188"/><use href="#kl" x="240"/><use href="#kl" x="292"/><use href="#kl" x="344"/><use href="#kl" x="396"/><use href="#kl" x="448"/><use href="#pl" x="500"/><use href="#pl" x="552"/></g>
<g id="row39" transform="translate(0,2038)"><use href="#pr" x="84"/><use href="#pr" x="136"/><use href="#pr" x="188"/><use href="#pr" x="240"/><use href="#pr" x="292"/><use href="#pr" x="344"/><use href="#pr" x="396"/><use href="#kr" x="448"/><use href="#kr" x="500"/><use href="#pr" x="552"/></g>
<g id="row40" transform="translate(0,2090)"><use href="#pl" x="84"/><use href="#pl" x="136"/><use href="#pl" x="188"/><use href="#pl" x="240"/><use href="#pl" x="292"/><use href="#pl" x="344"/><use href="#pl" x="396"/><use href="#pl" x="448"/><use href="#kl" x="500"/><use href="#pl" x="552"/></g>
<g id="row41" transform="translate(0,2142)"><use href="#pr" x="84"/><use href="#pr" x="136"/><use href="#pr" x="188"/><use href="#pr" x="240"/><use href="#pr" x="292"/><use href="#pr" x="344"/><use href="#pr" x="396"/><use href="#kr" x="448"/><use href="#kr" x="500"/><use href="#pr" x="552"/></g>
<g id="row42" transform="translate(0,2194)"><use href="#pl" x="84"/><use href="#pl" x="136"/><use href="#pl" x="188"/><use href="#pl" x="240"/><use href="#pl" x="292"/><use href="#kl" x="344"/><use href="#kl" x="396"/><use href="#kl" x="448"/><use href="#pl" x="500"/><use href="#pl" x="552"/></g>
<g id="row43" transform="translate(0,2246)"><use href="#pr" x="84"/><use href="#pr" x="136"/><use href="#pr" x="188"/><use href="#pr" x="240"/><use href="#pr" x="292"/><use href="#pr" x="344"/><use href="#pr" x="396"/><use href="#pr" x="448"/><use href="#pr" x="500"/><use href="#pr" x="552"/></g>
<g id="row44" transform="translate(0,2298)"><use href="#pl" x="84"/><use href="#pl" x="136"/><use href="#pl" x="188"/><use href="#pl" x="240"/><use href="#pl" x="292"/><use href="#pl" x="344"/><use href="#pl" x="396"/><use href="#pl" x="448"/><use href="#pl" x="500"/><use href="#pl" x="552"/></g>
<g id="row45" transform="translate(0,2350)"><use href="#pr" x="84"/><use href="#pr" x="136"/><use href="#pr" x="188"/><use href="#pr" x="240"/><use href="#pr" x="292"/><use href="#pr" x="344"/><use href="#pr" x="396"/><use href="#pr" x="448"/><use href="#pr" x="500"/><use href="#pr" x="552"/></g>
<g id="row46" transform="translate(0,2402)"><use href="#pl" x="84"/><use href="#pl" x="136"/><use href="#pl" x="188"/><use href="#pl" x="240"/><use href="#pl" x="292"/><use href="#pl" x="344"/><use href="#pl" x="396"/><use href="#pl" x="448"/><use href="#pl" x="500"/><use href="#pl" x="552"/></g>
<g id="row47" transform="translate(0,2454)"><use href="#pr" x="84"/><use href="#pr" x="136"/><use href="#pr" x="188"/><use href="#pr" x="240"/><use href="#pr" x="292"/><use href="#pr" x="344"/><use href="#pr" x="396"/><use href="#pr" x="448"/><use href="#pr" x="500"/><use href="#pr" x="552"/></g>
<g id="row48" transform="translate(0,2506)"><use href="#pl" x="84"/><use href="#pl" x="136"/><use href="#pl" x="188"/><use href="#pl" x="240"/><use href="#pl" x="292"/><use href="#pl" x="344"/><use href="#pl" x="396"/><use href="#pl" x="448"/><use href="#pl" x="500"/><use href="#pl" x="552"/></g>
<g id="row49" transform="translate(0,2558)"><use href="#pr" x="84"/><use href="#pr" x="136"/><use href="#pr" x="188"/><use href="#pr" x="240"/><use href="#pr" x="292"/><use href="#pr" x="344"/><use href="#pr" x="396"/><use href="#pr" x="448"/><use href="#pr" x="500"/><use href="#pr" x="552"/></g>
<g id="row50" transform="translate(0,2610)"><use href="#pl" x="84"/><use href="#pl" x="136"/><use href="#pl" x="188"/><use href="#pl" x="240"/><use href="#pl" x="292"/><use href="#pl" x="344"/><use href="#pl" x="396"/><use href="#pl" x="448"/><use href="#pl" x="500"/><use href="#pl" x="552"/></g>
<g id="row51" transform="translate(0,2662)"><use href="#pr" x="84"/><use href="#pr" x="136"/><use href="#pr" x="188"/><use href="#pr" x="240"/><use href="#pr" x="292"/><use href="#pr" x="344"/><use href="#pr" x="396"/><use href="#pr" x="448"/><use href="#pr" x="500"/><use href="#pr" x="552"/></g>
<g id="row52" transform="translate(0,2714)"><use href="#pl" x="84"/><use href="#pl" x="136"/><use href="#pl" x="188"/><use href="#pl" x="240"/><use href="#pl" x="292"/><use href="#pl" x="344"/><use href="#pl" x="396"/><use href="#pl" x="448"/><use href="#pl" x="500"/><use href="#pl" x="552"/></g>
<g id="row53" transform="translate(0,2766)"><use href="#pr" x="84"/><use href="#pr" x="136"/><use href="#pr" x="188"/><use href="#pr" x="240"/><use href="#pr" x="292"/><use href="#pr" x="344"/><use href="#pr" x="396"/><use href="#pr" x="448"/><use href="#pr" x="500"/><use href="#pr" x="552"/></g>
<g id="row54" transform="translate(0,2818)"><use href="#pl" x="84"/><use href="#pl" x="136"/><use href="#pl" x="188"/><use href="#pl" x="240"/><use href="#pl" x="292"/><use href="#pl" x="344"/><use href="#pl" x="396"/><use href="#pl" x="448"/><use href="#pl" x="500"/><use href="#pl" x="552"/></g>
<g id="row55" transform="translate(0,2870)"><use href="#pr" x="84"/><use href="#pr" x="136"/><use href="#pr" x="188"/><use href="#pr" x="240"/><use href="#pr" x="292"/><use href="#pr" x="344"/><use href="#pr" x="396"/><use href="#pr" x="448"/><use href="#pr" x="500"/><use href="#pr" x="552"/></g>
<g id="row56" transform="translate(0,2922)"><use href="#pl" x="84"/><use href="#pl" x="136"/><use href="#pl" x="188"/><use href="#pl" x="240"/><use href="#pl" x="292"/><use href="#pl" x="344"/><use href="#pl" x="396"/><use href="#pl" x="448"/><use href="#pl" x="500"/><use href="#pl" x="552"/></g>
<g id="row57" transform="translate(0,2974)"><use href="#or" x="84"/><use href="#pr" x="136"/><use href="#pr" x="188"/><use href="#pr" x="240"/><use href="#pr" x="292"/><use href="#pr" x="344"/><use href="#pr" x="396"/><use href="#pr" x="448"/><use href="#pr" x="500"/><use href="#pr" x="552"/></g>
<g id="row58" transform="translate(0,3026)"><use href="#pl" x="84"/><use href="#pl" x="136"/><use href="#pl" x="188"/><use href="#pl" x="240"/><use href="#pl" x="292"/><use href="#pl" x="344"/><use href="#pl" x="396"/><use href="#pl" x="448"/><use href="#pl" x="500"/><use href="#pl" x="552"/></g>
<g id="row59" transform="translate(0,3078)"><use href="#pr" x="84"/><use href="#pr" x="136"/><use href="#or" x="188"/><use href="#pr" x="240"/><use href="#pr" x="292"/><use href="#pr" x="344"/><use href="#or" x="396"/><use href="#pr" x="448"/><use href="#pr" x="500"/><use href="#dr" x="552"/></g>
<g id="row60" transform="translate(0,3130)"><use href="#pl" x="84"/><use href="#pl" x="136"/><use href="#pl" x="188"/><use href="#pl" x="240"/><use href="#pl" x="292"/><use href="#pl" x="344"/><use href="#pl" x="396"/><use href="#pl" x="448"/><use href="#pl" x="500"/><use href="#pl" x="552"/></g>
<g id="row61" transform="translate(0,3182)"><use href="#pr" x="84"/><use href="#pr" x="136"/><use href="#pr" x="188"/><use href="#dr" x="240"/><use href="#pr" x="292"/><use href="#pr" x="344"/><use href="#pr" x="396"/><use href="#pr" x="448"/><use href="#or" x="500"/><use href="#pr" x="552"/></g>
<g id="row62" transform="translate(0,3234)"><use href="#pl" x="84"/><use href="#dl" x="136"/><use href="#pl" x="188"/><use href="#pl" x="240"/><use href="#ol" x="292"/><use href="#pl" x="344"/><use href="#pl" x="396"/><use href="#pl" x="448"/><use href="#pl" x="500"/><use href="#pl" x="552"/></g>
<g id="row63" transform="translate(0,3286)"><use href="#pr" x="84"/><use href="#pr" x="136"/><use href="#pr" x="188"/><use href="#pr" x="240"/><use href="#pr" x="292"/><use href="#pr" x="344"/><use href="#pr" x="396"/><use href="#dr" x="448"/><use href="#pr" x="500"/><use href="#pr" x="552"/></g>
<g id="row64" transform="translate(0,3338)"><use href="#ol" x="84"/><use href="#pl" x="136"/><use href="#pl" x="188"/><use href="#dl" x="240"/><use href="#pl" x="292"/><use href="#dl" x="344"/><use href="#pl" x="396"/><use href="#pl" x="448"/><use href="#pl" x="500"/><use href="#dl" x="552"/></g>
<g id="row65" transform="translate(0,3390)"><use href="#pr" x="84"/><use href="#pr" x="136"/><use href="#pr" x="188"/><use href="#pr" x="240"/><use href="#or" x="292"/><use href="#pr" x="344"/><use href="#or" x="396"/><use href="#pr" x="448"/><use href="#pr" x="500"/><use href="#pr" x="552"/></g>
<g id="row66" transform="translate(0,3442)"><use href="#pl" x="84"/><use href="#pl" x="136"/><use href="#ol" x="188"/><use href="#pl" x="240"/><use href="#pl" x="292"/><use href="#pl" x="344"/><use href="#pl" x="396"/><use href="#pl" x="448"/><use href="#ol" x="500"/><use href="#pl" x="552"/></g>
<g id="row67" transform="translate(0,3494)"><use href="#pr" x="84"/><use href="#dr" x="136"/><use href="#pr" x="188"/><use href="#dr" x="240"/><use href="#pr" x="292"/><use href="#dr" x="344"/><use href="#pr" x="396"/><use href="#dr" x="448"/><use href="#pr" x="500"/><use href="#dr" x="552"/></g>
<g id="row68" transform="translate(0,3546)"><use href="#dl" x="84"/><use href="#ol" x="136"/><use href="#dl" x="188"/><use href="#ol" x="240"/><use href="#dl" x="292"/><use href="#ol" x="344"/><use href="#dl" x="396"/><use href="#ol" x="448"/><use href="#dl" x="500"/><use href="#ol" x="552"/></g>
<g id="row69" transform="translate(0,3598)"><use href="#or" x="84"/><use href="#dr" x="136"/><use href="#or" x="188"/><use href="#dr" x="240"/><use href="#or" x="292"/><use href="#dr" x="344"/><use href="#or" x="396"/><use href="#dr" x="448"/><use href="#or" x="500"/><use href="#dr" x="552"/></g>
<g id="row70" transform="translate(0,3650)"><use href="#dl" x="84"/><use href="#ol" x="136"/><use href="#dl" x="188"/><use href="#ol" x="240"/><use href="#dl" x="292"/><use href="#ol" x="344"/><use href="#dl" x="396"/><use href="#ol" x="448"/><use href="#dl" x="500"/><use href="#ol" x="552"/></g>
</g>
<g id="watermark"><text class="wm" x="320" y="1861.5" text-anchor="middle" textLength="155" lengthAdjust="spacingAndGlyphs">BRACELETBOOK.COM</text></g>
</svg>
